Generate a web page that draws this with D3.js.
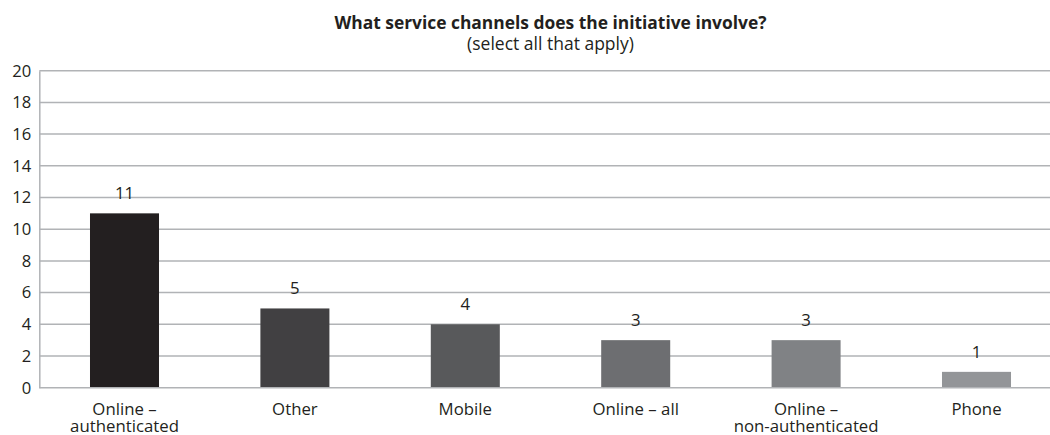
<!DOCTYPE html>
<html>
<head>
<meta charset="utf-8">
<script src="https://cdn.jsdelivr.net/npm/d3@7/dist/d3.min.js"></script>
<style>
  html, body { margin: 0; padding: 0; background: #ffffff; }
  svg { display: block; }
  text { font-family: "Open Sans", "Noto Sans", sans-serif; fill: #231f20; }
</style>
</head>
<body>
<svg id="chart" width="1050" height="435"></svg>
<script>
// Service channels and the number of initiatives using each one
const categories = [
  ["Online –", "authenticated"],
  ["Other"],
  ["Mobile"],
  ["Online – all"],
  ["Online –", "non-authenticated"],
  ["Phone"]
];
const counts = [11, 5, 4, 3, 3, 1];
const barColors = ["#231f20", "#414042", "#58595b", "#6d6e71", "#808285", "#939598"];
const yTicks = [0, 2, 4, 6, 8, 10, 12, 14, 16, 18, 20];
const titleText = "What service channels does the initiative involve?";
const subtitleText = "(select all that apply)";

const svg = d3.select("#chart");
const plotLeft = 39.3, plotRight = 1061.7, plotTop = 70.7, plotBottom = 387.7;
const gridColor = "#b1b3b6";

const keys = categories.map(c => c.join(" "));
const x = d3.scaleBand().domain(keys).range([plotLeft, plotRight])
  .paddingInner(0.595).paddingOuter(0.2975);
const y = d3.scaleLinear().domain([0, 20]).range([plotBottom, plotTop]);

// Horizontal gridlines
svg.append("g").selectAll("line").data(yTicks.filter(t => t > 0)).join("line")
  .attr("x1", plotLeft).attr("x2", 1050)
  .attr("y1", d => y(d)).attr("y2", d => y(d))
  .attr("stroke", gridColor).attr("stroke-width", 1.5);

// Bars
svg.append("g").selectAll("rect").data(counts).join("rect")
  .attr("x", (d, i) => x(keys[i]))
  .attr("width", x.bandwidth())
  .attr("y", d => y(d))
  .attr("height", d => y(0) - y(d))
  .attr("fill", (d, i) => barColors[i]);

// Value labels
svg.append("g").selectAll("text").data(counts).join("text")
  .attr("x", (d, i) => x(keys[i]) + x.bandwidth() / 2)
  .attr("y", d => y(d) - 14)
  .attr("text-anchor", "middle")
  .attr("font-size", 16.8)
  .text(d => d);

// Y axis
const yAxis = d3.axisLeft(y).tickValues(yTicks).tickSize(0).tickPadding(8);
const ya = svg.append("g").attr("transform", `translate(${plotLeft},0)`).call(yAxis);
ya.select(".domain").attr("stroke", gridColor).attr("stroke-width", 1.5);
ya.selectAll("text").attr("font-size", 16.6).attr("fill", "#231f20")
  .style("font-family", '"Open Sans", sans-serif');

// Baseline
svg.append("line").attr("x1", plotLeft).attr("x2", 1050)
  .attr("y1", y(0)).attr("y2", y(0))
  .attr("stroke", gridColor).attr("stroke-width", 1.5);

// Category labels (one or two lines)
const cat = svg.append("g").selectAll("text").data(categories).join("text")
  .attr("x", (d, i) => x(keys[i]) + x.bandwidth() / 2)
  .attr("y", 415)
  .attr("text-anchor", "middle")
  .attr("font-size", 16.8);
cat.selectAll("tspan").data(d => d).join("tspan")
  .attr("x", function () { return this.parentNode.getAttribute("x"); })
  .attr("dy", (d, i) => i === 0 ? 0 : 16.5)
  .text(d => d);

// Title
const cx = (plotLeft + plotRight) / 2;
svg.append("text").attr("x", cx).attr("y", 29).attr("text-anchor", "middle")
  .attr("font-size", 17.4).attr("font-weight", "bold").text(titleText);
svg.append("text").attr("x", cx).attr("y", 50).attr("text-anchor", "middle")
  .attr("font-size", 17.5).text(subtitleText);
</script>
</body>
</html>
